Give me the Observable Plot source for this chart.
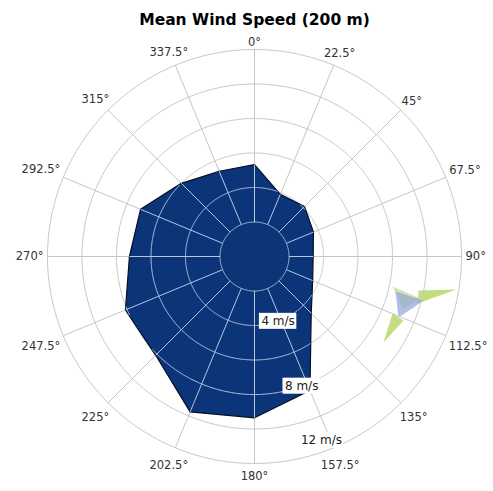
<!DOCTYPE html>
<html><head><meta charset="utf-8">
<script src="https://cdn.jsdelivr.net/npm/d3@7"></script>
<script src="https://cdn.jsdelivr.net/npm/@observablehq/plot@0.6"></script>
<style>html,body{margin:0;padding:0;background:#fff;} #chart svg{display:block;}</style>
</head><body><div id="chart"></div>
<script>
// ---- data ----
const title = "Mean Wind Speed (200 m)";
const directions = [0,22.5,45,67.5,90,112.5,135,157.5,180,202.5,225,247.5,270,292.5,315,337.5];
const meanSpeed  = [5.33,3.9,4.1,3.7,3.4,3.65,4.65,8.4,9.35,9.75,8.1,8.1,7.25,7.15,6.0,5.35];
const ringTicks = [2,4,6,8,10,12];
const speedTicks = [4,8,12];
const speedTickLabels = ["4 m/s","8 m/s","12 m/s"];
const angleTickLabels = directions.map(d => d + "°");

// ---- layout ----
const W = 493, H = 491, CX = 254, CY = 256, K = 17.25; // px per m/s
const rMax = 12, rMin = 2;
const rad = d => d * Math.PI / 180;
const px = (r, a) => r * Math.sin(rad(a));
const py = (r, a) => r * Math.cos(rad(a));

const n = directions.length;
function polyR(a) {
  const step = 360 / n;
  const aa = ((a % 360) + 360) % 360;
  const i = Math.floor(aa / step) % n, j = (i + 1) % n;
  const P = [px(meanSpeed[i], directions[i]), py(meanSpeed[i], directions[i])];
  const Q = [px(meanSpeed[j], directions[j]), py(meanSpeed[j], directions[j])];
  const u = [Math.sin(rad(aa)), Math.cos(rad(aa))];
  const D = [Q[0] - P[0], Q[1] - P[1]];
  const cr = (a, b) => a[0] * b[1] - a[1] * b[0];
  return cr(P, D) / cr(u, D);
}

const ringPts = [];
for (const R of ringTicks) {
  for (let a = 0; a <= 360; a += 0.5) {
    ringPts.push({ring: R, x: px(R, a), y: py(R, a), inside: polyR(a) > R + 0.03});
  }
}
const spokes = directions.map((d, i) => ({
  x1: px(rMin, d), y1: py(rMin, d), x2: px(rMax, d), y2: py(rMax, d),
  xi: px(meanSpeed[i], d), yi: py(meanSpeed[i], d)
}));
const poly = directions.map((d, i) => ({x: px(meanSpeed[i], d), y: py(meanSpeed[i], d)}));

// text measuring
const ctx = document.createElement("canvas").getContext("2d");
const angFont = "11.5px 'DejaVu Sans'";
ctx.font = angFont;
const angleLabels = directions.map((d, i) => {
  const w = ctx.measureText(angleTickLabels[i]).width;
  const s = Math.sin(rad(d)), c = Math.cos(rad(d));
  const Rp = 211 + (w / 2) * Math.abs(s) + 6 * Math.abs(c);
  return {text: angleTickLabels[i], x: (Rp * s) / K, y: (Rp * c - 2.5 * Math.abs(c)) / K};
});
const spdFont = "12px 'DejaVu Sans'";
ctx.font = spdFont;
const labAng = 160;
const speedLabels = speedTicks.map((t, i) => {
  const r = Math.min(t, rMax - 0.65);
  const w = ctx.measureText(speedTickLabels[i]).width + 4;
  const x = px(r, labAng), y = py(r, labAng);
  return {text: speedTickLabels[i], x, y, x1: x - w / 2 / K, x2: x + w / 2 / K, y1: y - 8 / K, y2: y + 8 / K};
});

// decorative logo (pixel offsets from chart centre, y downward)
const logo = [
  {id: "a", c: "#b9d86c", o: 0.85, pts: [[164, 34], [202, 33], [163, 47]]},
  {id: "b", c: "#b9d86c", o: 0.85, pts: [[129, 86], [138, 57], [149, 64]]},
  {id: "c", c: "#c9dca0", o: 0.8, pts: [[138, 30], [166, 42], [149, 52]]},
  {id: "d", c: "#8da5d6", o: 0.7, pts: [[141, 35], [169, 44], [159, 51], [144, 61]]}
];
const logoPts = logo.flatMap(s => s.pts.map(p => ({id: s.id, c: s.c, o: s.o, x: p[0] / K, y: -p[1] / K})));

const chart = Plot.plot({
  width: W, height: H,
  marginTop: 0, marginBottom: 0, marginLeft: 0, marginRight: 0,
  x: {domain: [-CX / K, (W - CX) / K], range: [0, W], axis: null},
  y: {domain: [-(H - CY) / K, CY / K], range: [H, 0], axis: null},
  marks: [
    Plot.line(logoPts, {x: "x", y: "y", z: "id", fill: "c", fillOpacity: "o", stroke: "none", curve: "linear-closed"}),
    Plot.line(ringPts, {x: "x", y: "y", z: "ring", stroke: "#c6c6c6", strokeWidth: 1}),
    Plot.link(spokes, {x1: "x1", y1: "y1", x2: "x2", y2: "y2", stroke: "#c6c6c6", strokeWidth: 1}),
    Plot.line(poly, {x: "x", y: "y", fill: "#0c3478", stroke: "#050f25", strokeWidth: 1.2, curve: "linear-closed"}),
    Plot.line(ringPts, {x: "x", y: d => d.inside ? d.y : NaN, z: "ring", stroke: "#b5c7e6", strokeWidth: 1}),
    Plot.link(spokes, {x1: "x1", y1: "y1", x2: "xi", y2: "yi", stroke: "#b5c7e6", strokeWidth: 1}),
    Plot.rect(speedLabels, {x1: "x1", x2: "x2", y1: "y1", y2: "y2", fill: "white"}),
    Plot.text(speedLabels, {x: "x", y: "y", text: "text", fill: "#222", fontSize: 12, fontFamily: "DejaVu Sans"}),
    Plot.text(angleLabels, {x: "x", y: "y", text: "text", fill: "#333", fontSize: 11.5, fontFamily: "DejaVu Sans"}),
    Plot.text([title], {x: 0, y: (CY - 20) / K, text: d => d, fill: "#000", fontSize: 15.5, fontWeight: "bold", fontFamily: "DejaVu Sans"})
  ]
});
document.getElementById("chart").append(chart);
</script>
</body></html>
